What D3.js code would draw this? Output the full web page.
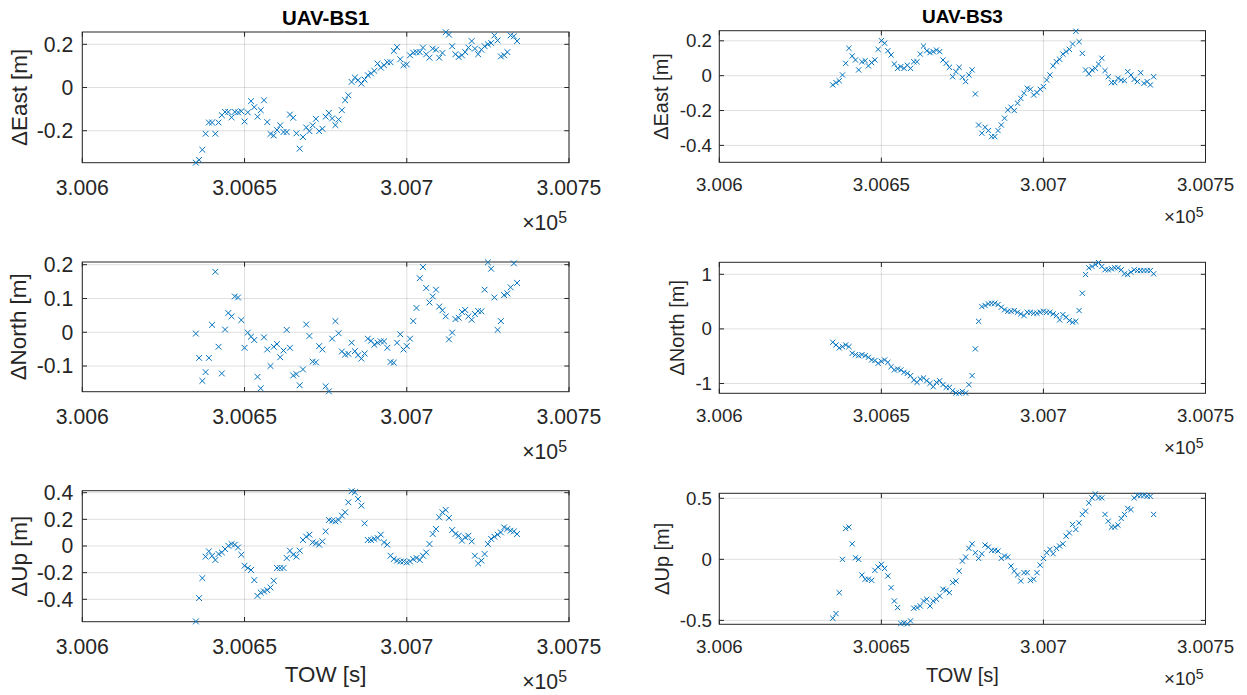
<!DOCTYPE html>
<html>
<head>
<meta charset="utf-8">
<script src="https://cdn.jsdelivr.net/npm/d3@7"></script>
<style>
  body { margin: 0; background: #fff; }
  svg { display: block; font-family: "Liberation Sans", Arial, Helvetica, sans-serif; }
</style>
</head>
<body>
<svg id="chart" width="1247" height="695"></svg>
<script>
// GPS time of week of the first epoch, samples are 1 s apart
var tow0 = 300635;
var xTicks = [300600, 300650, 300700, 300750];
var xTickLabels = ["3.006", "3.0065", "3.007", "3.0075"];

// UAV-BS1
var bs1East = [-0.348, -0.335, -0.288, -0.214, -0.162, -0.162, -0.214, -0.162, -0.128, -0.113,
  -0.113, -0.138, -0.113, -0.115, -0.110, -0.157, -0.115, -0.063, -0.091, -0.135,
  -0.105, -0.059, -0.160, -0.215, -0.222, -0.197, -0.175, -0.206, -0.206, -0.125,
  -0.140, -0.212, -0.283, -0.229, -0.185, -0.202, -0.175, -0.145, -0.202, -0.191,
  -0.135, -0.117, -0.143, -0.174, -0.148, -0.105, -0.059, -0.036, 0.026, 0.046,
  0.034, 0.018, 0.037, 0.057, 0.065, 0.077, 0.111, 0.092, 0.103, 0.117,
  0.117, 0.169, 0.187, 0.131, 0.103, 0.107, 0.149, 0.161, 0.164, 0.164,
  0.185, 0.154, 0.138, 0.180, 0.175, 0.138, 0.160, 0.256, 0.245, 0.191,
  0.154, 0.141, 0.149, 0.164, 0.185, 0.215, 0.180, 0.154, 0.175, 0.191,
  0.200, 0.206, 0.241, 0.218, 0.144, 0.149, 0.164, 0.241, 0.237, 0.215];
var bs1North = [-0.004, -0.076, -0.144, -0.118, -0.076, 0.022, 0.179, -0.043, -0.122, 0.008,
  0.057, 0.047, 0.106, 0.103, 0.036, -0.046, -0.001, -0.013, -0.023, -0.132,
  -0.166, -0.015, -0.051, -0.100, -0.043, -0.035, -0.074, -0.054, 0.007, -0.046,
  -0.128, -0.124, -0.157, -0.110, 0.023, -0.011, -0.087, -0.089, -0.041, -0.051,
  -0.160, -0.175, -0.019, 0.033, -0.003, -0.057, -0.066, -0.064, -0.031, -0.056,
  -0.068, -0.078, -0.063, -0.019, -0.025, -0.037, -0.031, -0.027, -0.027, -0.046,
  -0.088, -0.090, -0.031, -0.006, -0.051, -0.041, -0.019, 0.033, 0.072, 0.160,
  0.193, 0.131, 0.088, 0.106, 0.126, 0.076, 0.065, 0.047, -0.021, -0.001,
  0.039, 0.043, 0.060, 0.066, 0.047, 0.037, 0.054, 0.063, 0.062, 0.126,
  0.207, 0.188, 0.103, 0.007, 0.033, 0.110, 0.115, 0.133, 0.204, 0.146];
var bs1Up = [-0.566, -0.391, -0.241, -0.080, -0.040, -0.073, -0.105, -0.060, -0.048, -0.023,
  0.002, 0.015, 0.010, -0.011, -0.065, -0.148, -0.165, -0.180, -0.256, -0.374,
  -0.349, -0.341, -0.331, -0.311, -0.261, -0.165, -0.165, -0.165, -0.090, -0.035,
  -0.065, -0.080, -0.035, 0.045, 0.070, 0.085, 0.027, 0.020, 0.010, 0.035,
  0.110, 0.195, 0.190, 0.185, 0.195, 0.228, 0.253, 0.328, 0.411, 0.403,
  0.353, 0.303, 0.170, 0.045, 0.045, 0.053, 0.060, 0.085, 0.027, 0.010,
  -0.073, -0.098, -0.110, -0.116, -0.116, -0.123, -0.116, -0.098, -0.090, -0.105,
  -0.073, -0.048, 0.015, 0.090, 0.128, 0.215, 0.253, 0.271, 0.211, 0.120,
  0.090, 0.077, 0.040, 0.065, 0.077, 0.035, -0.073, -0.131, -0.110, -0.060,
  0.015, 0.053, 0.070, 0.085, 0.102, 0.140, 0.128, 0.115, 0.110, 0.090];

// UAV-BS3
var bs3East = [-0.053, -0.040, -0.029, 0.004, 0.071, 0.157, 0.113, 0.090, 0.033, 0.080,
  0.086, 0.056, 0.075, 0.090, 0.151, 0.201, 0.186, 0.143, 0.119, 0.067,
  0.042, 0.052, 0.042, 0.060, 0.042, 0.080, 0.080, 0.124, 0.170, 0.143,
  0.132, 0.138, 0.147, 0.138, 0.090, 0.071, 0.048, -0.006, 0.023, 0.048,
  -0.009, -0.034, 0.004, 0.033, -0.105, -0.283, -0.330, -0.296, -0.315, -0.350,
  -0.350, -0.315, -0.283, -0.244, -0.197, -0.181, -0.200, -0.158, -0.130, -0.101,
  -0.072, -0.078, -0.111, -0.097, -0.078, -0.063, -0.025, 0.004, 0.056, 0.080,
  0.094, 0.124, 0.138, 0.151, 0.182, 0.255, 0.195, 0.128, 0.033, 0.010,
  0.033, 0.042, 0.067, 0.100, 0.029, -0.006, -0.040, -0.040, -0.015, -0.025,
  -0.029, 0.023, 0.004, -0.021, -0.034, 0.017, -0.044, -0.034, -0.053, -0.006];
var bs3North = [-0.245, -0.294, -0.349, -0.325, -0.294, -0.325, -0.447, -0.472, -0.490, -0.472,
  -0.490, -0.521, -0.569, -0.580, -0.631, -0.594, -0.569, -0.613, -0.692, -0.752,
  -0.734, -0.752, -0.796, -0.815, -0.857, -0.936, -0.980, -0.917, -0.899, -0.949,
  -0.998, -1.059, -0.980, -0.949, -1.022, -1.071, -1.071, -1.132, -1.175, -1.175,
  -1.145, -1.175, -1.022, -0.857, -0.367, 0.139, 0.409, 0.428, 0.459, 0.470,
  0.470, 0.446, 0.397, 0.349, 0.323, 0.323, 0.336, 0.305, 0.275, 0.244,
  0.305, 0.305, 0.287, 0.287, 0.305, 0.323, 0.305, 0.305, 0.275, 0.244,
  0.165, 0.262, 0.213, 0.152, 0.122, 0.139, 0.336, 0.653, 0.996, 1.119,
  1.143, 1.180, 1.215, 1.143, 1.083, 1.083, 1.101, 1.119, 1.119, 1.083,
  1.009, 0.996, 1.039, 1.083, 1.070, 1.070, 1.070, 1.070, 1.070, 1.009];
var bs3Up = [-0.482, -0.444, -0.273, 0.000, 0.253, 0.264, 0.127, 0.013, 0.000, -0.128,
  -0.163, -0.163, -0.172, -0.090, -0.063, -0.041, -0.074, -0.136, -0.232, -0.341,
  -0.395, -0.525, -0.520, -0.528, -0.504, -0.400, -0.395, -0.382, -0.341, -0.327,
  -0.382, -0.341, -0.327, -0.300, -0.245, -0.253, -0.273, -0.191, -0.177, -0.096,
  -0.014, 0.019, 0.090, 0.127, 0.054, 0.008, 0.046, 0.117, 0.100, 0.074,
  0.074, 0.068, 0.008, 0.027, 0.019, -0.055, -0.096, -0.128, -0.177, -0.109,
  -0.109, -0.172, -0.163, -0.109, -0.047, 0.008, 0.054, 0.082, 0.046, 0.090,
  0.109, 0.127, 0.190, 0.217, 0.286, 0.245, 0.299, 0.368, 0.395, 0.462,
  0.503, 0.536, 0.503, 0.503, 0.368, 0.313, 0.264, 0.264, 0.280, 0.335,
  0.368, 0.417, 0.408, 0.503, 0.525, 0.525, 0.525, 0.517, 0.517, 0.368];

// axis limits (axis tight) and ticks
var yLimBs1East = [-0.348, 0.257], yTicksBs1East = [-0.2, 0, 0.2];
var yLimBs1North = [-0.176, 0.208], yTicksBs1North = [-0.1, 0, 0.1, 0.2];
var yLimBs1Up = [-0.568, 0.415], yTicksBs1Up = [-0.4, -0.2, 0, 0.2, 0.4];
var yLimBs3East = [-0.497, 0.258], yTicksBs3East = [-0.4, -0.2, 0, 0.2];
var yLimBs3North = [-1.18, 1.22], yTicksBs3North = [-1, 0, 1];
var yLimBs3Up = [-0.532, 0.541], yTicksBs3Up = [-0.5, 0, 0.5];

// the two columns come out at slightly different scale
var cols = [
	{x0: 82.3, x1: 569, tick: 21.2, lab: 22.4, ttl: 20.5, gap: 9, xtDy: 32, expDy: 67, towDy: 60.5, ttlDy: 7, mk: 2.9, title: "UAV-BS1"},
	{x0: 719.3, x1: 1205.5, tick: 18.7, lab: 20, ttl: 19, gap: 7.3, xtDy: 28.4, expDy: 61, towDy: 57.4, ttlDy: 7.4, mk: 2.6, title: "UAV-BS3"}
];

var panels = [
	{col: 0, y0: 32, y1: 162.7, labX: 19, vals: bs1East, lim: yLimBs1East, ticks: yTicksBs1East, label: "\u0394East [m]"},
	{col: 1, y0: 30.7, y1: 162.3, labX: 661, vals: bs3East, lim: yLimBs3East, ticks: yTicksBs3East, label: "\u0394East [m]"},
	{col: 0, y0: 262, y1: 391.7, labX: 18, vals: bs1North, lim: yLimBs1North, ticks: yTicksBs1North, label: "\u0394North [m]"},
	{col: 1, y0: 262.3, y1: 393.3, labX: 677, vals: bs3North, lim: yLimBs3North, ticks: yTicksBs3North, label: "\u0394North [m]"},
	{col: 0, y0: 490.7, y1: 621.7, labX: 19, vals: bs1Up, lim: yLimBs1Up, ticks: yTicksBs1Up, label: "\u0394Up [m]"},
	{col: 1, y0: 493.3, y1: 624.3, labX: 661.5, vals: bs3Up, lim: yLimBs3Up, ticks: yTicksBs3Up, label: "\u0394Up [m]"}
];

var svg = d3.select("#chart");
var axCol = "#262626", gridCol = "rgba(38,38,38,0.15)", mkCol = "#0072BD";
var tickLen = 4.7;
var fmt = d => d === 0 ? "0" : String(d);

panels.forEach(function (p, i) {
	var c = cols[p.col];
	var x = d3.scaleLinear().domain([xTicks[0], xTicks[xTicks.length - 1]]).range([c.x0, c.x1]);
	var y = d3.scaleLinear().domain(p.lim).range([p.y1, p.y0]);
	var g = svg.append("g");

	// grid
	g.append("g").selectAll("line").data(xTicks).join("line")
		.attr("x1", d => x(d)).attr("x2", d => x(d))
		.attr("y1", p.y0).attr("y2", p.y1)
		.attr("stroke", gridCol);
	g.append("g").selectAll("line").data(p.ticks).join("line")
		.attr("x1", c.x0).attr("x2", c.x1)
		.attr("y1", d => y(d)).attr("y2", d => y(d))
		.attr("stroke", gridCol);

	// tick marks, inside, on all four sides
	var tk = g.append("g").attr("stroke", axCol);
	xTicks.forEach(function (d) {
		tk.append("line").attr("x1", x(d)).attr("x2", x(d)).attr("y1", p.y1).attr("y2", p.y1 - tickLen);
		tk.append("line").attr("x1", x(d)).attr("x2", x(d)).attr("y1", p.y0).attr("y2", p.y0 + tickLen);
	});
	p.ticks.forEach(function (d) {
		tk.append("line").attr("x1", c.x0).attr("x2", c.x0 + tickLen).attr("y1", y(d)).attr("y2", y(d));
		tk.append("line").attr("x1", c.x1).attr("x2", c.x1 - tickLen).attr("y1", y(d)).attr("y2", y(d));
	});

	// box
	g.append("rect")
		.attr("x", c.x0).attr("y", p.y0)
		.attr("width", c.x1 - c.x0).attr("height", p.y1 - p.y0)
		.attr("fill", "none").attr("stroke", axCol).attr("stroke-width", 1);

	// tick labels
	g.append("g").selectAll("text").data(xTicks).join("text")
		.attr("x", d => x(d)).attr("y", p.y1 + c.xtDy)
		.attr("text-anchor", "middle")
		.attr("font-size", c.tick).attr("fill", axCol)
		.text((d, j) => xTickLabels[j]);
	g.append("g").selectAll("text").data(p.ticks).join("text")
		.attr("x", c.x0 - c.gap).attr("y", d => y(d))
		.attr("dy", "0.35em")
		.attr("text-anchor", "end")
		.attr("font-size", c.tick).attr("fill", axCol)
		.text(fmt);

	// x10^5 exponent
	var ex = g.append("text")
		.attr("x", c.x1 - 2).attr("y", p.y1 + c.expDy)
		.attr("text-anchor", "end")
		.attr("font-size", c.tick).attr("fill", axCol);
	ex.append("tspan").text("\u00d710");
	ex.append("tspan").attr("dy", "-0.42em").attr("font-size", "0.75em").text("5");

	// y label
	g.append("text")
		.attr("transform", `translate(${p.labX},${(p.y0 + p.y1) / 2}) rotate(-90)`)
		.attr("dy", "0.35em")
		.attr("text-anchor", "middle")
		.attr("font-size", c.lab).attr("fill", axCol)
		.text(p.label);

	if (i < 2) {
		g.append("text")
			.attr("x", (c.x0 + c.x1) / 2).attr("y", p.y0 - c.ttlDy)
			.attr("text-anchor", "middle")
			.attr("font-size", c.ttl).attr("font-weight", "bold").attr("fill", "#000")
			.text(c.title);
	}
	if (i >= 4) {
		g.append("text")
			.attr("x", (c.x0 + c.x1) / 2).attr("y", p.y1 + c.towDy)
			.attr("text-anchor", "middle")
			.attr("font-size", c.lab).attr("fill", axCol)
			.text("TOW [s]");
	}

	// 'x' markers
	var s = c.mk;
	g.append("g").selectAll("path").data(p.vals).join("path")
		.attr("transform", (d, j) => `translate(${x(tow0 + j)},${y(d)})`)
		.attr("d", `M${-s},${-s}L${s},${s}M${-s},${s}L${s},${-s}`)
		.attr("fill", "none")
		.attr("stroke", mkCol)
		.attr("stroke-width", 1);
});
</script>
</body>
</html>
